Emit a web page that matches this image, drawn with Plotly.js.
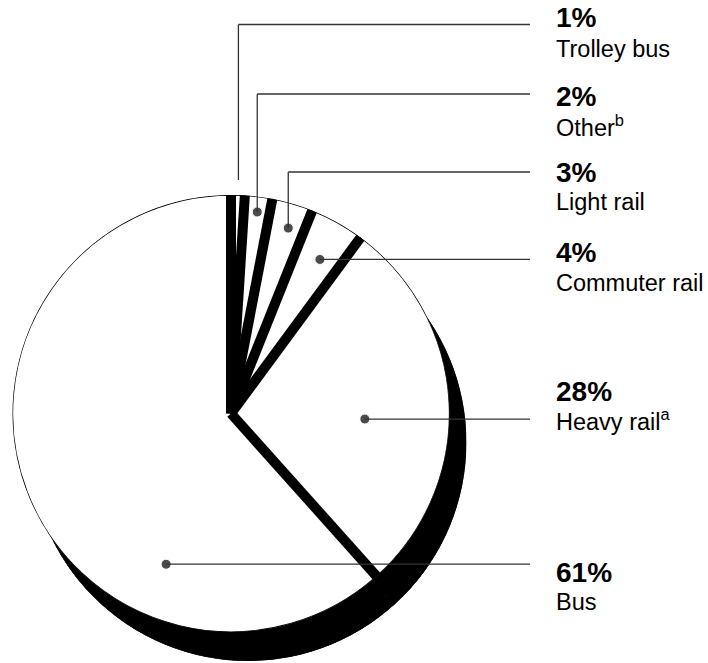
<!DOCTYPE html>
<html>
<head>
<meta charset="utf-8">
<script src="https://cdn.plot.ly/plotly-3.0.1.min.js"></script>
<style>html,body{margin:0;padding:0;background:#fff;}#chart{width:708px;height:663px;}</style>
</head>
<body>
<div id="chart"></div>
<script>
// ---- data ----
const categories = ['Trolley bus', 'Other', 'Light rail', 'Commuter rail', 'Heavy rail', 'Bus'];
const footnotes = ['', 'b', '', '', 'a', ''];
const shares = [1, 2, 3, 4, 28, 61];

// ---- style / layout constants ----
const W = 708, H = 663;
const pieLeft = 12.5, pieTop = 195, pieSize = 437;
const shadowDx = 17, shadowDy = 29;
const sepWidth = 10, outlineWidth = 1.3;
const dotRadius = [1.069, 0.93, 0.888, 0.814, 0.613, 0.751];
const dotShift = [0, 0.15, 0.8, 0.9, 5.1, -45.8];
const dotSize = [0, 10, 10, 10, 10, 10];
const leaderTopY = [24.5, 94, 172, null, null, null];
const leaderEndX = 530;
const labelX = 554;
const pctBaseline = [28.5, 107.5, 182.7, 263, 402.5, 583.3];
const nameBaseline = [58, 137, 211, 292, 431.5, 611];
const pctSize = 28, nameSize = 23.5;
const FONT = 'Liberation Sans, Arial, Helvetica, sans-serif';

// ---- geometry derived from data ----
const total = shares.reduce((a, b) => a + b, 0);
const angles = shares.map(v => v / total * 360);
const starts = [];
angles.reduce((acc, a) => { starts.push(acc); return acc + a; }, 0);
const mids = starts.map((s, i) => s + angles[i] / 2);

const px2x = x => x / W;
const px2y = y => 1 - y / H;

function polarDomain(dx, dy) {
  return {
    x: [px2x(pieLeft + dx), px2x(pieLeft + dx + pieSize)],
    y: [px2y(pieTop + dy + pieSize), px2y(pieTop + dy)]
  };
}
const cx = pieLeft + pieSize / 2, cy = pieTop + pieSize / 2, R = pieSize / 2;

const polarCommon = {
  bgcolor: 'rgba(0,0,0,0)',
  bargap: 0,
  radialaxis: {visible: false, range: [0, 1], showgrid: false, showline: false, ticks: ''},
  angularaxis: {visible: false, rotation: 90, direction: 'clockwise', showgrid: false, showline: false, ticks: ''}
};

// shadow (extruded side)
const shadow = {
  type: 'barpolar', subplot: 'polar',
  r: shares.map(() => 1), theta: mids, width: angles,
  marker: {color: '#000', line: {color: '#000', width: 1}},
  hoverinfo: 'skip', showlegend: false
};

// white slices
const slices = {
  type: 'barpolar', subplot: 'polar2',
  r: shares.map(() => 1), theta: mids, width: angles,
  marker: {color: '#fff', line: {color: '#000', width: outlineWidth}},
  hoverinfo: 'skip', showlegend: false
};

// black separators between slices
const sepR = [], sepT = [];
starts.forEach(s => { sepR.push(0, 1, null); sepT.push(s, s, null); });
const separators = {
  type: 'scatterpolar', subplot: 'polar2', mode: 'lines',
  r: sepR, theta: sepT, connectgaps: false,
  line: {color: '#000', width: sepWidth},
  hoverinfo: 'skip', showlegend: false, cliponaxis: false
};

// leader dots
const dotTheta = mids.map((m, i) => m + dotShift[i]);
const dots = {
  type: 'scatterpolar', subplot: 'polar2', mode: 'markers',
  r: dotRadius, theta: dotTheta,
  marker: {color: '#000', size: dotSize},
  hoverinfo: 'skip', showlegend: false, cliponaxis: false
};

// leader lines (shapes, from the same polar geometry)
const shapes = [];
categories.forEach((c, i) => {
  const t = dotTheta[i] * Math.PI / 180;
  const x0 = cx + R * dotRadius[i] * Math.sin(t);
  const y0 = cy - R * dotRadius[i] * Math.cos(t);
  const pts = leaderTopY[i] !== null
    ? [[x0, y0], [x0, leaderTopY[i]], [leaderEndX, leaderTopY[i]]]
    : [[x0, y0], [leaderEndX, y0]];
  for (let k = 0; k < pts.length - 1; k++) {
    shapes.push({
      type: 'line', xref: 'paper', yref: 'paper', layer: 'above',
      x0: px2x(pts[k][0]), y0: px2y(pts[k][1]),
      x1: px2x(pts[k + 1][0]), y1: px2y(pts[k + 1][1]),
      line: {color: '#333', width: 1.3}
    });
  }
});

// labels
const annotations = [];
categories.forEach((c, i) => {
  annotations.push({
    xref: 'paper', yref: 'paper', showarrow: false,
    x: px2x(labelX), xanchor: 'left',
    y: px2y(pctBaseline[i] + 0.212 * pctSize + 1), yanchor: 'bottom',
    text: '<b>' + shares[i] + '%</b>',
    font: {family: FONT, size: pctSize, color: '#000'}
  });
  annotations.push({
    xref: 'paper', yref: 'paper', showarrow: false,
    x: px2x(labelX), xanchor: 'left',
    y: px2y(nameBaseline[i] + 0.212 * nameSize + 1), yanchor: 'bottom',
    text: c + (footnotes[i] ? '<sup>' + footnotes[i] + '</sup>' : ''),
    font: {family: FONT, size: nameSize, color: '#000'}
  });
});

const layout = {
  width: W, height: H,
  margin: {l: 0, r: 0, t: 0, b: 0},
  paper_bgcolor: '#fff',
  showlegend: false,
  polar: Object.assign({domain: polarDomain(shadowDx, shadowDy)}, JSON.parse(JSON.stringify(polarCommon))),
  polar2: Object.assign({domain: polarDomain(0, 0)}, JSON.parse(JSON.stringify(polarCommon))),
  shapes: shapes,
  annotations: annotations,
  font: {family: FONT}
};

Plotly.newPlot('chart', [shadow, slices, separators, dots], layout, {displayModeBar: false, staticPlot: true});
</script>
</body>
</html>
